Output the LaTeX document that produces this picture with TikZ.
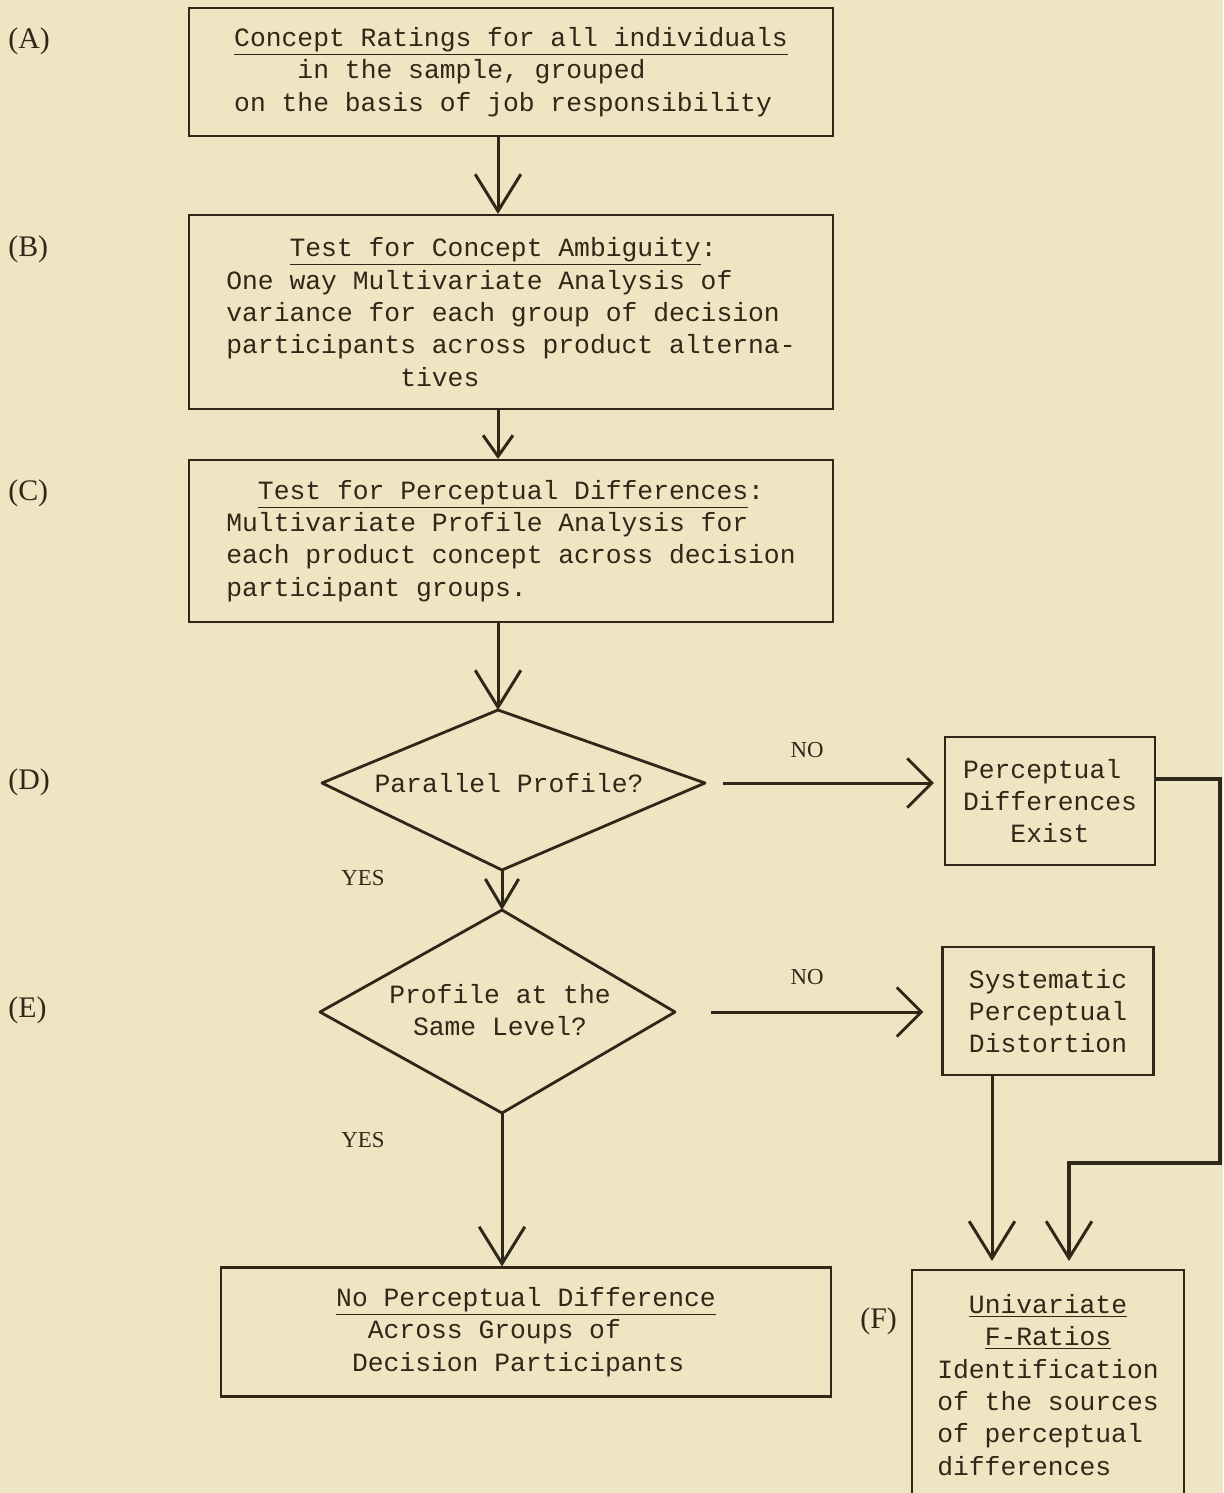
\documentclass[tikz,border=0pt]{standalone}
\usepackage{fontspec}
\setmainfont{Liberation Serif}
\newfontfamily\typew{Liberation Mono}
\usetikzlibrary{arrows.meta,positioning,calc}
\definecolor{paper}{HTML}{EFE5C3}
\definecolor{ink}{HTML}{2F2718}
\newcommand{\boxfont}{\typew\fontsize{15}{18.4}\selectfont}

\tikzset{
  box/.style={draw=ink, line width=1.2pt, inner sep=0pt, align=left, font=\boxfont, text=ink},
  dtext/.style={inner sep=0pt, align=center, font=\boxfont, text=ink},
  lbl/.style={inner sep=0pt, font=\fontsize{17}{19}\selectfont, text=ink},
  yesno/.style={inner sep=0pt, font=\fontsize{13}{15}\selectfont, text=ink},
  dmd/.style={draw=ink, line width=1.6pt, line join=round},
  arrbig/.style={draw=ink, line width=1.7pt, -{Straight Barb[length=21pt,width=26pt,line width=1.7pt]}},
  arrmid/.style={draw=ink, line width=1.7pt, -{Straight Barb[length=16pt,width=19pt,line width=1.7pt]}},
  arrsmall/.style={draw=ink, line width=1.7pt, -{Straight Barb[length=12pt,width=17pt,line width=1.7pt]}},
  arrside/.style={draw=ink, line width=1.7pt, -{Straight Barb[length=14pt,width=28pt,line width=1.7pt]}}
}

\begin{document}
\begin{tikzpicture}[x=0.02cm, y=-0.02cm]
  \clip (0,0) rectangle (1223,1493);
  \fill[paper] (0,0) rectangle (1223,1493);

  % process boxes
  \node[box, minimum width=12.88cm, minimum height=2.56cm] (A) at (511,72)
    {\underline{Concept Ratings for all individuals}\\
     \phantom{xxxx}in the sample, grouped\\
     on the basis of job responsibility};
  \node[box, minimum width=12.88cm, minimum height=3.88cm] (B) at (511,312)
    {\phantom{xxxx}\underline{Test for Concept Ambiguity}:\\
     One way Multivariate Analysis of\\
     variance for each group of decision\\
     participants across product alterna-\\
     \phantom{xxxxxxxxxxx}tives};
  \node[box, minimum width=12.88cm, minimum height=3.24cm] (C) at (511,541)
    {\phantom{xx}\underline{Test for Perceptual Differences}:\\
     Multivariate Profile Analysis for\\
     each product concept across decision\\
     participant groups.};
  \node[box, minimum width=4.2cm, minimum height=2.56cm] (P) at (1050,801)
    {Perceptual\\Differences\\\phantom{xxx}Exist};
  \node[box, minimum width=4.22cm, minimum height=2.56cm] (S) at (1048,1011)
    {Systematic\\Perceptual\\Distortion};
  \node[box, minimum width=12.2cm, minimum height=2.58cm] (G) at (526,1332)
    {\underline{No Perceptual Difference}\\
     \phantom{xx}Across Groups of\\
     \phantom{x}Decision Participants};
  \node[box, minimum width=5.44cm, minimum height=4.6cm] (F) at (1048,1385)
    {\phantom{xx}\underline{Univariate}\\
     \phantom{xxx}\underline{F-Ratios}\\
     Identification\\
     of the sources\\
     of perceptual\\
     differences};

  % decision diamonds
  \coordinate (Dt) at (498,710);
  \coordinate (Dl) at (322,783);
  \coordinate (Dr) at (705,783);
  \coordinate (Db) at (502,870);
  \draw[dmd] (Dt) -- (Dr) -- (Db) -- (Dl) -- cycle;
  \node[dtext] (Dtxt) at (509,783) {Parallel Profile?};

  \coordinate (Et) at (502,910);
  \coordinate (El) at (320,1012);
  \coordinate (Er) at (675,1012);
  \coordinate (Eb) at (502,1113);
  \draw[dmd] (Et) -- (Er) -- (Eb) -- (El) -- cycle;
  \node[dtext] (Etxt) at (500,1010) {Profile at the\\Same Level?};

  % step labels
  \node[lbl, anchor=west] (la) at (8,41) {(A)};
  \node[lbl, anchor=west] (lb) at (8,249) {(B)};
  \node[lbl, anchor=west] (lc) at (8,493) {(C)};
  \node[lbl, anchor=west] (ld) at (8,782) {(D)};
  \node[lbl, anchor=west] (le) at (8,1010) {(E)};
  \node[lbl, anchor=west] (lf) at (860,1321) {(F)};

  \node[yesno] (no1) at (807,750) {NO};
  \node[yesno] (no2) at (807,977) {NO};
  \node[yesno] (yes1) at (363,878) {YES};
  \node[yesno] (yes2) at (363,1140) {YES};

  % connectors
  \coordinate (col) at (498,0);
  \draw[arrbig] (A.south -| col) -- (B.north -| col);
  \draw[arrsmall] (B.south -| col) -- (C.north -| col);
  \draw[arrbig] (C.south -| col) -- (Dt);
  \draw[arrmid] (Db) -- (Et);
  \draw[arrbig] (Eb) -- (Eb |- G.north);
  \draw[arrside, shorten <=0.36cm, shorten >=0.2cm] (Dr) -- (Dr -| P.west);
  \draw[arrside, shorten <=0.72cm, shorten >=0.36cm] (Er) -- (Er -| S.west);

  \coordinate (sf) at (992,0);
  \draw[arrbig, shorten >=0.16cm] (S.south -| sf) -- (F.north -| sf);
  \coordinate (pf) at (0,779);
  \coordinate (rt) at (1220,0);
  \coordinate (jn) at (1069,1163);
  \draw[arrbig, line width=2pt, shorten >=0.16cm] (P.east |- pf) -| (rt |- jn) -| (jn |- F.north);
\end{tikzpicture}
\end{document}
